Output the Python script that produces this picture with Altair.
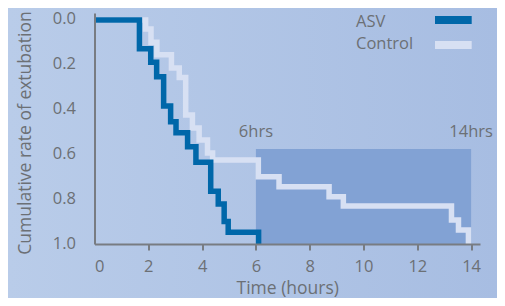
import altair as alt
import pandas as pd

# ---- data ----
series_names = ["ASV", "Control"]
asv_t = [0, 1.67, 2.09, 2.31, 2.57, 2.83, 3.03, 3.46, 3.77, 4.32, 4.60, 4.82, 4.97, 6.10]
asv_v = [0, 0.129, 0.189, 0.253, 0.384, 0.454, 0.503, 0.566, 0.635, 0.765, 0.821, 0.900, 0.948, 1.0]
ctl_t = [0, 1.90, 2.10, 2.32, 2.86, 3.15, 3.39, 3.64, 3.89, 4.20, 4.39, 6.09, 6.86, 8.72, 9.25, 13.27, 13.53, 13.90]
ctl_v = [0, 0.04, 0.10, 0.155, 0.214, 0.257, 0.424, 0.482, 0.536, 0.594, 0.625, 0.70, 0.744, 0.789, 0.83, 0.893, 0.937, 1.0]
window_start = [6]
window_end = [14]
window_top = [0.576]
window_bottom = [1.0]
annot_t = [6, 14]
annot_v = [0.50, 0.50]
annot_text = ["6hrs", "14hrs"]
x_ticks = [0, 2, 4, 6, 8, 10, 12, 14]
y_ticks = [0.0, 0.1, 0.2, 0.3, 0.4, 0.5, 0.6, 0.7, 0.8, 0.9, 1.0]

ASV_COL = "#0067a9"
CTL_COL = "#d7e0f3"
RECT_COL = "#82a2d4"
AXIS_COL = "#787c82"
TEXT_COL = "#6c7075"
FONT = "Open Sans"

W, H = 385.5, 231
PAD = {"left": 86.5, "top": 5, "right": 17, "bottom": 54}

asv_df = pd.DataFrame({"t": asv_t, "v": asv_v, "series": series_names[0]})
ctl_df = pd.DataFrame({"t": ctl_t, "v": ctl_v, "series": series_names[1]})
win_df = pd.DataFrame({"t0": window_start, "t1": window_end, "v0": window_top, "v1": window_bottom})
ann_df = pd.DataFrame({"t": annot_t, "v": annot_v, "label": annot_text})

xscale = alt.Scale(domain=[0, 14.33], nice=False, zero=False)
yscale = alt.Scale(domain=[-0.031, 1.0], nice=False, zero=False, reverse=True)

x_axis = alt.Axis(
    values=x_ticks, grid=False, title="Time (hours)", format="d", zindex=1,
    domainColor=AXIS_COL, domainWidth=2, tickColor=AXIS_COL, tickWidth=2, tickSize=6,
    tickOpacity={"condition": {"test": "datum.value == 0", "value": 0}, "value": 1},
    labelColor=TEXT_COL, labelFont=FONT, labelFontSize=16.5, labelPadding=8,
    titleColor=TEXT_COL, titleFont=FONT, titleFontSize=17.5, titleFontWeight="normal",
    titlePadding=5,
)
y_axis = alt.Axis(
    values=y_ticks, grid=False, title="Cumulative rate of extubation", zindex=1,
    labelExpr="round(datum.value*10) % 2 == 0 ? format(datum.value, '.1f') : ''",
    domainColor=AXIS_COL, domainWidth=2, tickColor=AXIS_COL, tickWidth=2, tickSize=11,
    tickOpacity={"condition": {"test": "round(datum.value*10) % 2 == 1", "value": 1}, "value": 0},
    labelColor=TEXT_COL, labelFont=FONT, labelFontSize=16.5, labelPadding=8, labelOffset=-1,
    titleColor=TEXT_COL, titleFont=FONT, titleFontSize=17.5, titleFontWeight="normal",
    titleX=-60, titleY=119.5, titleAngle=-90, titleAlign="center",
)

bg = alt.Chart(pd.DataFrame({"a": [0]})).mark_rect(
    fill=alt.LinearGradient(
        gradient="linear", x1=0, y1=0, x2=1, y2=0,
        stops=[alt.GradientStop(offset=0, color="#b9cce9"),
               alt.GradientStop(offset=1, color="#a7bde2")],
    )
).encode(
    x=alt.value(-PAD["left"]), x2=alt.value(W + PAD["right"]),
    y=alt.value(-PAD["top"]), y2=alt.value(H + PAD["bottom"]),
)

win = alt.Chart(win_df).mark_rect(color=RECT_COL).encode(
    x=alt.X("t0:Q", scale=xscale, axis=x_axis),
    x2="t1:Q",
    y=alt.Y("v0:Q", scale=yscale, axis=y_axis),
    y2="v1:Q",
)

ann = alt.Chart(ann_df).mark_text(
    font=FONT, fontSize=16.5, color=TEXT_COL, align="center", baseline="middle"
).encode(x=alt.X("t:Q", scale=xscale), y=alt.Y("v:Q", scale=yscale), text="label:N")

def step_line(df, col):
    return alt.Chart(df).mark_line(
        interpolate="step-after", strokeWidth=5.5, color=col, strokeJoin="miter", strokeCap="butt"
    ).encode(x=alt.X("t:Q", scale=xscale), y=alt.Y("v:Q", scale=yscale))

ctl_line = step_line(ctl_df, CTL_COL)
asv_line = step_line(asv_df, ASV_COL)

legend_layers = []
for i, (name, col) in enumerate(zip(series_names, [ASV_COL, CTL_COL])):
    d = pd.DataFrame({"s": [name]})
    legend_layers.append(
        alt.Chart(d).mark_text(font=FONT, fontSize=16.5, color=TEXT_COL, align="left", baseline="middle")
        .encode(text="s:N", x=alt.value(261.5), y=alt.value(8.7 + 22.6 * i))
    )
    legend_layers.append(
        alt.Chart(d).mark_rule(color=col, strokeWidth=8)
        .encode(x=alt.value(340.5), x2=alt.value(377.2), y=alt.value(7 + 25 * i))
    )

chart = alt.layer(bg, win, ann, ctl_line, asv_line, *legend_layers).properties(
    width=W, height=H, padding=PAD, autosize="none", background="#b0c5e6"
).configure_view(stroke=None)

chart.save("out.html", embed_options={"renderer": "svg", "actions": False})
